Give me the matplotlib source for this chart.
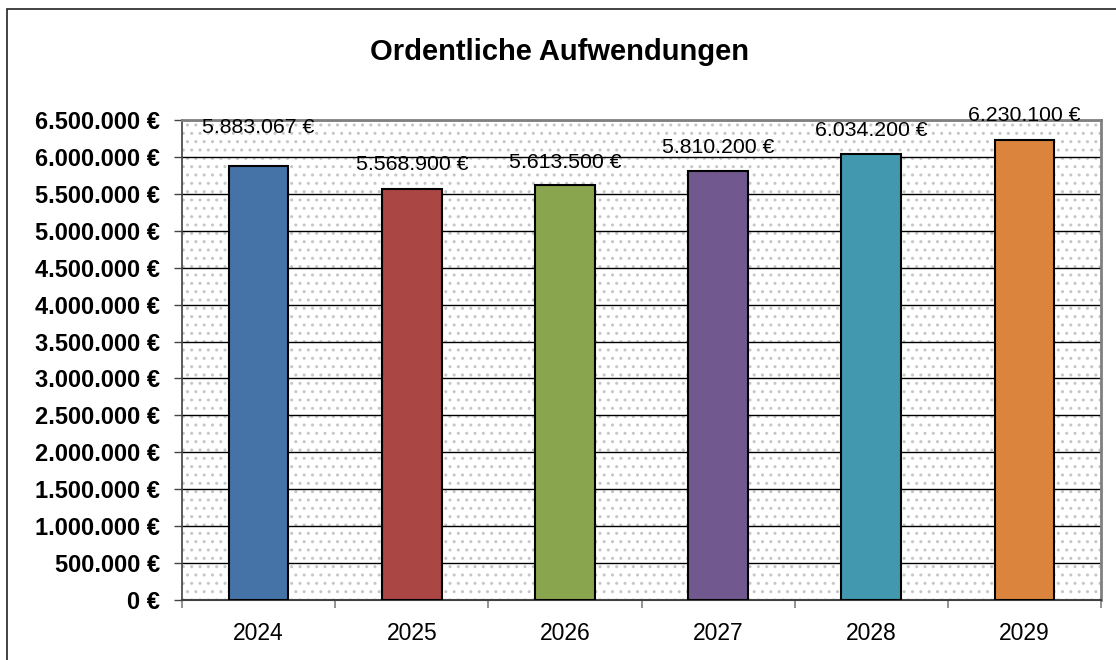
import matplotlib
matplotlib.use("Agg")
import matplotlib.pyplot as plt
import matplotlib.patches as mpatches
from matplotlib.ticker import FuncFormatter, MultipleLocator
import numpy as np

plt.rcParams['font.family'] = ['Liberation Sans', 'DejaVu Sans']
plt.rcParams['hatch.linewidth'] = 1.0

# Data
years = ['2024', '2025', '2026', '2027', '2028', '2029']
values = [5883067, 5568900, 5613500, 5810200, 6034200, 6230100]
colors = ['#4572A7', '#AA4643', '#89A54E', '#71588F', '#4198AF', '#DB843D']
label_offsets = [38, 24, 23, 23, 24, 24]  # pixel offset of the value labels


def euro(v, pos=None):
    return f'{int(v):,} €'.replace(',', '.')


fig = plt.figure(figsize=(11.16, 6.6), dpi=100)
ax = fig.add_axes([182 / 1116, 1 - 600 / 660, (1101 - 182) / 1116, 480 / 660])

# Outer chart border (right/bottom fall outside the image)
fig.patches.append(mpatches.Rectangle((7 / 1116, -0.1), 1.2, 1 - 9 / 660 + 0.1,
                                      transform=fig.transFigure, fill=False,
                                      edgecolor='#222222', linewidth=1.2))

# Dotted plot background
ax.add_patch(mpatches.Rectangle((0, 0), 1, 1, transform=ax.transAxes,
                                facecolor='white', edgecolor='#c6c6c6', linewidth=0,
                                hatch='..', zorder=0))

x = np.arange(len(years))
ax.bar(x, values, width=0.39, color=colors, edgecolor='black', linewidth=1.5, zorder=3)

for xi, v, off in zip(x, values, label_offsets):
    ax.annotate(euro(v), xy=(xi, v), xytext=(0, off * 0.72), textcoords='offset points',
                ha='center', va='center', fontsize=15.3, color='black', zorder=4)

ax.set_xlim(-0.5, len(years) - 0.5)
ax.set_ylim(0, 6500000)
ax.yaxis.set_major_locator(MultipleLocator(500000))
ax.yaxis.set_major_formatter(FuncFormatter(euro))
ax.grid(axis='y', color='black', linewidth=1.0, zorder=1)
ax.set_axisbelow(True)

ax.set_xticks(x)
ax.set_xticklabels(years, fontsize=16.5)
ax.set_xticks(np.arange(-0.5, len(years)), minor=True)
ax.tick_params(axis='x', which='major', length=0, pad=16)
ax.tick_params(axis='x', which='minor', length=6, color='#808080', width=1.2)
ax.tick_params(axis='y', length=6, width=1.0, color='#444444', pad=10)
for lab in ax.get_yticklabels():
    lab.set_fontsize(17)
    lab.set_fontweight('bold')

for side in ['top', 'right', 'bottom', 'left']:
    ax.spines[side].set_color('#808080')
    ax.spines[side].set_linewidth(2.0)
ax.spines['left'].set_color('#404040')
ax.spines['left'].set_linewidth(1.2)
ax.spines['bottom'].set_color('#404040')
ax.spines['bottom'].set_linewidth(1.5)

fig.text(560 / 1116, 1 - 52 / 660, 'Ordentliche Aufwendungen', ha='center', va='center',
         fontsize=21, fontweight='bold')

fig.savefig('out.png', dpi=100, facecolor='white')
